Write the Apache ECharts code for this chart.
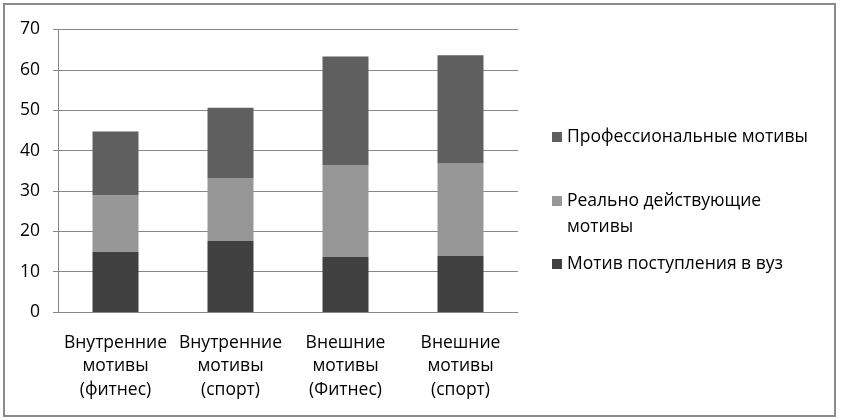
<!DOCTYPE html>
<html><head><meta charset="utf-8">
<script src="https://cdn.jsdelivr.net/npm/echarts@6/dist/echarts.min.js"></script>
<style>html,body{margin:0;padding:0;background:#fff}#c{width:844px;height:420px}</style>
</head><body><div id="c"></div>
<script>
const categories = ['Внутренние\nмотивы\n(фитнес)', 'Внутренние\nмотивы\n(спорт)', 'Внешние\nмотивы\n(Фитнес)', 'Внешние\nмотивы\n(спорт)'];
const seriesNames = ['Мотив поступления в вуз', 'Реально действующие\nмотивы', 'Профессиональные мотивы'];
const admission = [15.0, 17.6, 13.6, 13.9];
const actual = [13.9, 15.5, 22.8, 23.0];
const professional = [15.8, 17.5, 26.9, 26.7];
const yTicks = [0, 10, 20, 30, 40, 50, 60, 70];

const colors = ['#404040', '#979797', '#5f5f5f'];
const font = 'Open Sans';
const chart = echarts.init(document.getElementById('c'));
const legendBase = {
  orient: 'vertical', left: 547, itemWidth: 10, itemHeight: 10, itemGap: 0,
  icon: 'rect',
  textStyle: {fontFamily: font, fontSize: 17.5, color: '#000', lineHeight: 26}
};
chart.setOption({
  animation: false,
  graphic: [{type: 'rect', shape: {x: 4, y: 4, width: 831, height: 412}, style: {fill: 'none', stroke: '#8a8a8a', lineWidth: 2}}],
  grid: {left: 58, right: 326, top: 29.5, bottom: 108},
  legend: [
    Object.assign({}, legendBase, {top: 119, data: [seriesNames[2]]}),
    Object.assign({}, legendBase, {top: 183, itemHeight: 36,
      icon: 'path://M0,0L10,0L10,10L0,10Z M0,36L0.01,36', data: [seriesNames[1]]}),
    Object.assign({}, legendBase, {top: 246, data: [seriesNames[0]]})
  ],
  xAxis: {
    type: 'category', data: categories,
    axisLine: {lineStyle: {color: '#888'}},
    axisTick: {length: 5, lineStyle: {color: '#888'}},
    axisLabel: {fontFamily: font, fontSize: 17.5, color: '#000', lineHeight: 23.5, margin: 19, interval: 0}
  },
  yAxis: {
    type: 'value', min: 0, max: 70, interval: 10,
    axisLine: {show: true, lineStyle: {color: '#888'}},
    axisTick: {show: true, length: 5, lineStyle: {color: '#888'}},
    splitLine: {lineStyle: {color: '#888'}},
    axisLabel: {fontFamily: font, fontSize: 17.5, color: '#000', margin: 18,
      formatter: v => yTicks.includes(v) ? String(v) : ''}
  },
  series: [
    {name: seriesNames[0], type: 'bar', stack: 's', data: admission, itemStyle: {color: colors[0]}, barWidth: 46},
    {name: seriesNames[1], type: 'bar', stack: 's', data: actual, itemStyle: {color: colors[1]}, barWidth: 46},
    {name: seriesNames[2], type: 'bar', stack: 's', data: professional, itemStyle: {color: colors[2]}, barWidth: 46}
  ]
});
</script></body></html>
